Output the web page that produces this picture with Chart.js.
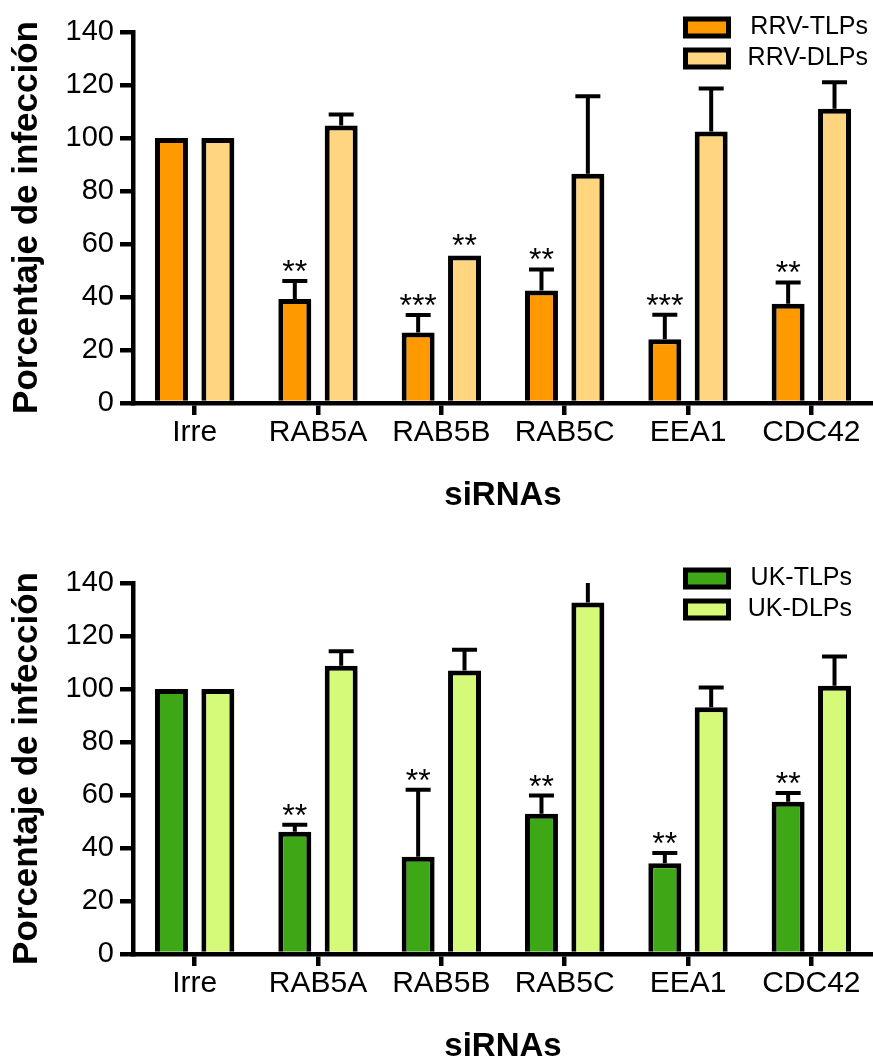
<!DOCTYPE html>
<html>
<head>
<meta charset="utf-8">
<script src="https://cdn.jsdelivr.net/npm/chart.js@4.4.1/dist/chart.umd.min.js"></script>
<style>
  html, body { margin: 0; padding: 0; background: #fff; overflow: hidden; }
  .panel { width: 873px; height: 551px; }
</style>
</head>
<body>
<div class="panel"><canvas id="rrvChart" width="873" height="551"></canvas></div>
<div class="panel"><canvas id="ukChart" width="873" height="551"></canvas></div>
<script>
const categories = ['Irre', 'RAB5A', 'RAB5B', 'RAB5C', 'EEA1', 'CDC42'];
const yTicks = [0, 20, 40, 60, 80, 100, 120, 140];

// RRV panel
const rrvTlp = [100, 39.2, 26.6, 42.5, 24.1, 37.5];
const rrvTlpErr = [0, 6.8, 6.6, 7.9, 9.2, 8.0];
const rrvTlpStars = ['', '**', '***', '**', '***', '**'];
const rrvDlp = [100, 104.7, 55.7, 86.5, 102.5, 111.0];
const rrvDlpErr = [0, 4.2, 0, 29.3, 16.2, 10.0];
const rrvDlpStars = ['', '', '**', '', '', ''];

// UK panel
const ukTlp = [100, 46.1, 36.7, 52.9, 34.2, 57.5];
const ukTlpErr = [0, 2.7, 25.3, 6.9, 3.9, 3.3];
const ukTlpStars = ['', '**', '**', '**', '**', '**'];
const ukDlp = [100, 108.8, 107.0, 132.6, 93.1, 101.2];
const ukDlpErr = [0, 5.4, 7.8, 9.0, 7.5, 11.1];
const ukDlpStars = ['', '', '', '', '', ''];

const FONT = '"Liberation Sans", Arial, Helvetica, sans-serif';
Chart.defaults.font.family = FONT;
Chart.defaults.color = '#000';

// error bars (upper half only) and significance stars
const errorBars = {
    id: 'errorBars',
    afterDatasetsDraw(chart) {
        const ctx = chart.ctx;
        const yScale = chart.scales.y;
        const area = chart.chartArea;
        chart.data.datasets.forEach((ds, i) => {
            const meta = chart.getDatasetMeta(i);
            meta.data.forEach((bar, j) => {
                const err = ds.errors[j];
                let capY = bar.y;
                if (err > 0) {
                    capY = yScale.getPixelForValue(ds.data[j] + err);
                    ctx.save();
                    ctx.beginPath();
                    ctx.rect(area.left, area.top, area.width, area.height);
                    ctx.clip();
                    ctx.strokeStyle = '#000';
                    ctx.lineWidth = 4;
                    ctx.beginPath();
                    ctx.moveTo(bar.x, bar.y);
                    ctx.lineTo(bar.x, capY);
                    ctx.moveTo(bar.x - 12.5, capY);
                    ctx.lineTo(bar.x + 12.5, capY);
                    ctx.stroke();
                    ctx.restore();
                }
                const star = ds.stars[j];
                if (star) {
                    ctx.save();
                    ctx.fillStyle = '#000';
                    ctx.font = '32px ' + FONT;
                    ctx.textAlign = 'center';
                    ctx.textBaseline = 'alphabetic';
                    ctx.fillText(star, bar.x, Math.max(capY, area.top) + 1);
                    ctx.restore();
                }
            });
        });
    }
};

// put the legend in the top right corner, over the plot
const legendPlace = {
    id: 'legendPlace',
    afterLayout(chart, args, opts) {
        const lg = chart.legend;
        lg.left = 679.5;
        lg.right = opts.right;
        lg.top = 9;
        lg.bottom = 100;
        lg.width = lg.right - lg.left;
        lg.height = lg.bottom - lg.top;
    }
};

function drawPanel(canvasId, datasets, legendRight) {
    return new Chart(document.getElementById(canvasId), {
        type: 'bar',
        data: {
            labels: categories,
            datasets: datasets.map(d => ({
                label: d.label,
                data: d.data,
                errors: d.errors,
                stars: d.stars,
                backgroundColor: d.color,
                borderColor: '#000',
                borderWidth: 5,
                borderSkipped: 'start',
                categoryPercentage: 0.752,
                barPercentage: 0.711
            }))
        },
        options: {
            responsive: false,
            animation: false,
            events: [],
            layout: { padding: { top: 32, right: 0, bottom: 0, left: 0 } },
            plugins: {
                legend: {
                    position: 'chartArea',
                    align: 'start',
                    labels: {
                        boxWidth: 43,
                        boxHeight: 17,
                        padding: 6,
                        color: '#000',
                        textAlign: 'right',
                        font: { size: 25 }
                    }
                },
                tooltip: { enabled: false },
                legendPlace: { right: legendRight }
            },
            scales: {
                x: {
                    offset: true,
                    ticks: { color: '#000', padding: 0, maxRotation: 0, autoSkip: false, font: { size: 30 } },
                    grid: {
                        offset: false,
                        drawOnChartArea: false,
                        tickLength: 12,
                        tickWidth: 4.5,
                        tickColor: '#000',
                        lineWidth: 4.5,
                        color: '#000'
                    },
                    border: { display: true, color: '#000', width: 4.5, z: 1 },
                    title: {
                        display: true,
                        text: 'siRNAs',
                        color: '#000',
                        font: { size: 33, weight: 'bold' },
                        padding: { top: 0, bottom: 35 }
                    },
                    afterFit(scale) { scale.height = 148; }
                },
                y: {
                    min: yTicks[0],
                    max: yTicks[yTicks.length - 1],
                    afterBuildTicks(scale) { scale.ticks = yTicks.map(v => ({ value: v })); },
                    ticks: { color: '#000', padding: 6, font: { size: 29 } },
                    grid: {
                        drawOnChartArea: false,
                        tickLength: 13,
                        tickWidth: 4.5,
                        tickColor: '#000',
                        lineWidth: 4.5,
                        color: '#000'
                    },
                    border: { display: true, color: '#000', width: 4.5 },
                    title: {
                        display: true,
                        text: 'Porcentaje de infección',
                        color: '#000',
                        font: { size: 35, weight: 'bold' },
                        padding: { top: 6, bottom: 0 }
                    },
                    afterFit(scale) { scale.width = 133; }
                }
            }
        },
        plugins: [errorBars, legendPlace]
    });
}

drawPanel('rrvChart', [
    { label: 'RRV-TLPs', data: rrvTlp, errors: rrvTlpErr, stars: rrvTlpStars, color: '#FF9900' },
    { label: 'RRV-DLPs', data: rrvDlp, errors: rrvDlpErr, stars: rrvDlpStars, color: '#FFD57F' }
], 868);

drawPanel('ukChart', [
    { label: 'UK-TLPs', data: ukTlp, errors: ukTlpErr, stars: ukTlpStars, color: '#3EA716' },
    { label: 'UK-DLPs', data: ukDlp, errors: ukDlpErr, stars: ukDlpStars, color: '#D4FA78' }
], 852);
</script>
</body>
</html>
